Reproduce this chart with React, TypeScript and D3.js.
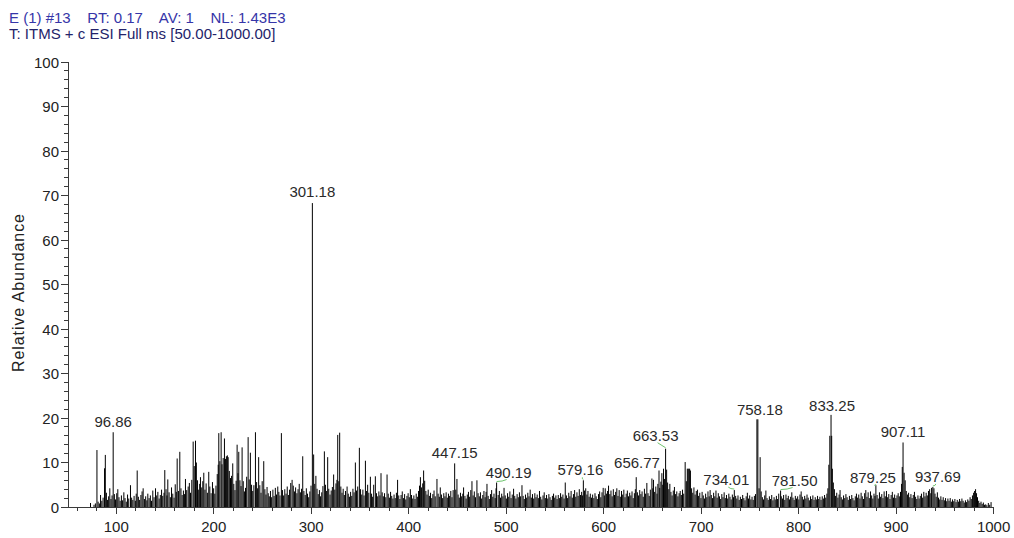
import React from "react";
import * as d3 from "d3";

// ---------- DATA ----------
const headerLine1 = "E (1) #13    RT: 0.17    AV: 1    NL: 1.43E3";
const headerLine2 = "T: ITMS + c ESI Full ms [50.00-1000.00]";
const yAxisTitle = "Relative Abundance";

const xTickValues = [100, 200, 300, 400, 500, 600, 700, 800, 900, 1000];
const yTickValues = [0, 10, 20, 30, 40, 50, 60, 70, 80, 90, 100];

// [m/z, relative abundance]
const peaksLow: [number, number][] = [
  [73.6,0.9],[77.2,0.5],[78.6,0.8],[80.2,12.8],[81.4,1.2],[82.7,0.8],[83.9,2.7],[85.2,1.4],[86.5,2.1],[88.0,8.7],[88.8,11.7],[89.9,3.2],[91.1,1.6],[92.2,2.4],[93.4,4.2],[94.6,1.8],[95.7,2.6],[96.86,16.8],[98.1,2.9],[99.3,1.7],[100.5,3.1],[101.6,4.0],[102.8,2.2],[104.0,1.4],[105.3,2.6],[106.5,1.5],[107.8,3.3],[109.0,2.0],[110.3,1.2],[111.6,2.8],[112.8,1.9],[114.6,4.9],[115.8,2.1],[117.0,1.6],[118.3,2.5],[119.6,1.4],[120.5,3.0],[121.5,8.2],[122.7,2.3],[124.0,1.6],[125.3,2.7],[126.5,3.5],[127.6,4.2],[128.9,1.8],[130.2,2.4],[131.4,1.5],[132.4,3.0],[133.7,2.0],[135.0,2.6],[136.2,1.4],[137.5,3.7],[138.8,2.2],[140.3,4.2],[141.5,2.6],[142.7,3.4],[144.0,1.9],[145.2,2.7],[146.5,3.9],[147.7,2.5],[149.0,3.2],[149.8,8.3],[151.1,4.0],[152.0,2.6],[152.9,6.2],[154.2,3.3],[155.5,2.2],[156.7,4.4],[158.0,3.0],[159.3,2.1],[160.5,5.1],[161.6,3.4],[162.5,10.9],[163.8,3.6],[165.2,12.4],[166.4,4.2],[167.6,2.7],[168.9,3.7],[170.1,2.9],[171.0,6.3],[172.3,3.8],[173.8,4.6],[175.0,5.4],[176.2,3.2],[177.5,6.1],[178.9,14.7],[180.0,9.2],[181.3,14.9],[182.2,10.0],[183.4,6.0],[184.6,3.9],[185.6,5.2],[186.4,6.7],[187.7,4.4],[188.8,5.8],[189.8,7.7],[191.0,3.9],[192.2,5.3],[193.5,3.2],[194.9,7.9],[196.0,4.6],[197.3,3.1],[198.7,5.6],[199.9,4.2],[201.1,3.0],[202.3,4.8],[203.6,7.4],[204.6,9.5],[205.2,16.6],[206.3,10.3],[207.6,16.8],[208.5,9.6],[209.7,11.0],[211.0,15.4],[212.0,10.8],[213.0,11.4],[214.0,11.6],[214.8,11.2],[216.0,8.1],[217.2,6.5],[218.3,7.0],[219.5,9.8],[220.6,5.2],[221.8,3.8],[223.0,5.9],[224.0,14.0],[224.9,7.6],[225.7,12.4],[226.9,6.0],[228.0,4.7],[229.1,13.4],[230.3,5.8],[231.5,3.5],[232.6,4.3],[233.8,6.8],[235.3,15.7],[236.4,6.2],[237.6,12.2],[238.8,5.0],[240.0,3.6],[241.2,4.9],[242.8,16.8],[244.0,5.6],[245.0,4.2],[246.1,11.2],[247.3,4.9],[248.5,3.2],[249.7,5.8],[251.3,10.3],[252.5,4.0],[253.6,2.8],[254.7,4.5],[255.9,3.1],[257.0,2.4],[258.2,3.6],[259.4,2.2],[260.7,3.9],[261.9,2.5],[263.2,4.3],[264.4,2.8],[265.7,4.6],[266.8,3.4],[268.0,2.6],[269.4,16.6],[270.5,3.8],[271.7,2.6],[272.9,4.0],[274.2,3.0],[275.4,4.6],[276.6,2.7],[277.8,3.9],[279.0,5.4],[280.4,6.1],[281.6,4.8],[282.8,3.5],[284.0,4.4],[285.3,3.1],[286.5,4.0],[287.7,5.2],[288.9,3.3],[290.1,4.1],[291.3,11.4],[292.5,3.6],[293.8,2.7],[295.0,4.2],[296.2,3.0],[297.4,2.2],[298.6,3.5],[299.8,4.8]
];

const peaksMid: [number, number][] = [
  [301.18,68.3],[302.5,11.8],[303.6,5.2],[304.8,7.0],[306.0,4.1],[307.2,2.9],[308.4,3.8],[309.6,2.4],[310.8,3.3],[312.0,4.7],[313.5,12.5],[314.6,5.0],[315.8,3.6],[316.9,11.2],[318.0,4.1],[319.3,2.8],[320.5,3.7],[321.7,4.5],[323.0,7.3],[324.2,3.9],[325.4,5.3],[326.4,6.1],[327.2,16.2],[328.3,5.8],[329.2,16.7],[330.4,4.6],[331.6,3.2],[332.8,4.1],[334.0,2.7],[335.2,3.6],[336.8,4.6],[338.0,3.0],[339.2,2.3],[340.4,3.4],[341.6,2.5],[342.8,4.1],[344.0,3.3],[345.3,10.0],[346.5,3.7],[347.7,4.6],[349.4,13.3],[350.6,4.0],[351.8,2.8],[353.0,3.9],[354.2,2.6],[355.6,10.4],[356.8,3.6],[357.9,5.0],[359.1,3.2],[360.7,6.8],[361.9,3.0],[363.0,2.3],[364.1,5.0],[365.8,6.9],[367.0,3.1],[368.2,2.4],[369.4,3.5],[370.5,2.6],[371.6,7.6],[372.8,3.3],[374.0,2.4],[375.2,3.1],[376.5,2.2],[377.8,7.3],[379.0,3.0],[380.2,2.1],[381.4,3.4],[382.6,2.5],[383.8,1.9],[385.0,2.8],[386.2,2.0],[387.4,3.2],[388.6,6.1],[389.8,2.6],[391.0,1.8],[392.2,2.7],[393.4,3.5],[394.6,2.0],[395.8,2.9],[397.0,1.7],[398.2,2.5],[399.4,3.1],[400.6,2.2],[401.7,4.0],[402.9,2.7],[404.1,1.9],[405.3,2.6],[406.5,1.8],[407.7,3.0],[408.9,2.3],[410.1,3.6],[411.1,4.8],[412.0,6.7],[413.2,4.4],[414.4,5.3],[415.3,8.2],[416.4,5.9],[417.6,3.6],[418.8,2.8],[420.0,3.9],[421.2,2.5],[422.4,3.2],[423.6,2.0],[424.8,2.9],[426.0,3.7],[427.2,2.4],[429.0,6.3],[430.2,3.0],[431.4,2.3],[432.4,4.4],[433.6,2.8],[434.8,2.0],[436.0,3.1],[437.2,2.4],[438.4,3.3],[439.6,2.1],[440.8,3.0],[442.0,2.5],[443.2,3.6],[444.4,2.2],[445.6,3.8],[447.15,9.8],[448.3,3.9],[449.5,6.3],[450.7,2.8],[451.9,2.1],[453.1,3.2],[454.3,2.4],[455.5,3.0],[456.3,4.4],[457.7,2.5],[458.9,1.9],[460.1,2.8],[461.3,3.4],[462.5,2.3],[463.7,3.8],[464.9,5.8],[466.1,2.6],[467.3,3.5],[468.5,2.2],[470.0,6.0],[471.2,3.1],[472.4,2.4],[473.6,3.3],[474.8,1.9],[476.0,2.7],[477.2,3.6],[478.4,2.2],[479.4,3.4],[480.3,5.2],[481.5,2.5],[482.7,1.8],[483.9,2.9],[485.1,3.8],[486.3,2.3],[487.5,3.0],[488.7,2.0],[489.6,4.2],[490.19,5.5],[491.8,2.7],[493.0,3.6],[494.2,2.1],[495.4,3.0],[496.6,2.4],[497.8,4.3],[499.0,2.6],[500.2,1.9],[501.4,3.1],[502.6,2.3],[503.8,3.5],[505.0,2.0],[506.2,2.8],[507.6,4.1],[508.8,2.5],[510.0,1.9],[511.2,2.9],[512.4,2.2],[513.6,3.3],[514.8,2.4],[516.2,4.9],[517.4,2.5],[518.6,1.8],[519.8,2.8],[521.0,2.1],[522.2,3.2],[523.4,2.4],[524.6,3.9],[525.8,2.1],[527.0,2.9],[528.2,1.9],[529.4,3.1],[530.6,2.2],[531.8,2.8],[533.0,2.0],[534.2,3.6],[535.4,2.3],[536.6,1.7],[537.8,2.6],[539.0,3.3],[540.2,2.0],[541.4,2.7],[542.6,1.9],[543.8,2.9],[545.0,2.2],[546.2,1.6],[547.4,2.5],[548.6,3.0],[549.8,2.1],[551.0,2.6],[552.2,1.8],[553.4,2.7],[554.6,2.0],[555.8,3.1],[557.0,2.3],[558.2,2.8],[559.4,1.9],[560.6,5.5],[561.8,2.6],[563.0,2.0],[564.2,3.2],[565.4,2.4],[566.6,3.6],[567.8,2.1],[569.0,2.9],[570.2,3.8],[571.4,2.3],[572.6,3.3],[573.8,2.5],[575.0,4.0],[576.2,2.7],[577.4,3.4],[578.4,2.6],[579.16,6.0],[580.4,3.7],[581.6,4.2],[582.8,2.8],[583.9,3.6],[585.1,2.3],[586.3,3.0],[587.5,2.1],[588.7,2.8],[589.9,2.0],[591.1,3.1],[592.3,2.4],[593.5,1.8],[594.7,2.9],[595.9,3.5],[597.1,2.2],[598.3,3.3],[599.5,4.3],[600.7,2.6],[601.6,4.2],[602.8,3.0],[604.0,3.6],[605.0,4.8],[606.3,2.9],[607.5,3.7],[608.7,2.4],[609.9,4.0],[611.1,2.7],[612.3,3.4],[613.5,4.2],[614.7,2.5],[615.9,3.8],[617.1,2.3],[618.3,3.6],[619.5,2.8],[620.7,3.9],[621.9,2.2],[623.1,3.0],[624.3,3.7],[625.5,2.4],[626.7,3.2],[627.9,2.6],[629.1,3.5],[630.3,2.0],[631.5,3.1],[632.5,4.0],[633.4,6.7],[634.6,3.3],[635.8,2.6],[637.0,3.8],[638.2,2.9],[639.4,3.5],[640.6,2.3],[641.8,4.1],[643.0,3.0],[644.3,5.4],[645.5,3.1],[646.7,2.5],[647.9,3.9],[649.5,6.4],[650.4,4.2]
];

const peaksHigh: [number, number][] = [
  [651.1,6.1],[652.3,3.4],[653.5,4.6],[654.7,3.0],[655.6,5.2],[656.77,8.2],[657.5,4.3],[658.7,5.7],[659.7,7.6],[660.6,5.0],[661.4,8.6],[662.5,6.3],[663.53,13.1],[664.6,8.4],[665.6,5.5],[666.8,4.0],[667.9,5.2],[669.0,3.4],[670.2,2.6],[671.4,3.7],[672.6,4.5],[673.8,2.9],[675.0,3.5],[676.2,2.4],[677.4,3.1],[678.5,3.6],[679.7,2.7],[680.9,3.9],[682.1,3.0],[683.6,10.1],[684.8,5.8],[685.8,8.6],[686.6,8.6],[687.4,8.6],[688.2,8.6],[689.0,8.2],[690.2,4.2],[691.4,3.2],[692.6,4.4],[693.8,2.8],[695.0,3.6],[696.2,3.9],[697.4,2.5],[698.6,3.2],[699.8,2.0],[701.0,3.4],[702.2,2.6],[703.4,1.9],[704.6,3.0],[705.8,2.2],[707.0,3.5],[708.2,2.4],[709.2,3.8],[710.4,2.7],[711.6,2.0],[712.8,3.2],[714.0,2.4],[715.2,3.7],[716.4,2.1],[717.6,3.1],[718.8,2.4],[720.0,1.8],[721.2,2.9],[722.4,2.2],[723.6,3.3],[724.8,2.0],[726.0,2.7],[727.2,1.9],[728.4,3.0],[729.6,2.3],[730.8,1.7],[732.0,2.8],[733.2,2.2],[734.01,3.8],[735.4,2.5],[736.6,1.9],[737.8,2.6],[739.0,1.6],[740.2,2.3],[741.4,1.8],[742.6,2.7],[743.8,2.0],[745.0,1.5],[746.2,2.4],[747.4,3.2],[748.6,1.9],[749.8,2.6],[751.0,1.7],[752.2,2.3],[753.4,1.6],[754.6,2.5],[755.8,2.9],[757.2,19.7],[758.18,19.7],[759.4,4.2],[760.5,11.2],[761.6,3.5],[762.8,2.2],[764.0,1.7],[765.2,2.6],[766.4,3.7],[767.6,2.0],[768.8,1.6],[770.0,2.4],[771.2,1.8],[772.4,2.7],[773.6,1.5],[774.8,2.2],[776.0,1.7],[777.2,2.5],[778.4,1.8],[779.6,3.0],[781.5,3.7],[782.2,2.4],[783.4,1.9],[784.6,2.7],[785.8,1.6],[787.0,2.8],[788.2,2.0],[789.4,2.5],[790.6,1.7],[791.8,2.3],[793.0,3.3],[794.2,2.1],[795.4,1.6],[796.6,2.5],[797.8,1.9],[799.0,2.4],[800.2,1.7],[801.4,2.8],[802.6,3.5],[803.8,2.3],[805.0,1.7],[806.2,2.5],[807.4,1.9],[808.6,2.8],[809.8,2.1],[811.0,1.5],[812.2,2.4],[813.4,1.8],[814.6,2.6],[815.8,1.6],[817.0,2.2],[818.2,1.7],[819.4,2.5],[820.6,1.8],[821.8,2.3],[823.0,1.6],[824.2,2.4],[825.4,1.9],[826.6,2.7],[827.8,2.1],[829.0,3.0],[830.0,4.2],[831.0,9.5],[832.0,16.0],[833.25,20.7],[833.9,16.0],[834.6,8.6],[835.6,5.5],[836.7,4.0],[837.9,2.5],[839.1,3.2],[840.3,2.1],[841.5,2.8],[842.5,3.8],[843.7,2.2],[844.9,1.7],[846.1,2.6],[847.3,2.0],[848.5,2.9],[849.7,2.2],[850.9,1.6],[852.1,2.5],[853.3,1.8],[854.5,2.7],[855.7,2.0],[856.9,1.5],[858.1,2.4],[859.3,3.0],[860.5,2.1],[861.7,2.8],[862.9,1.9],[864.1,3.2],[865.3,2.4],[866.5,1.8],[867.7,3.1],[868.9,3.8],[870.1,2.3],[871.3,3.3],[872.5,2.0],[873.7,3.5],[874.9,2.6],[876.1,1.9],[877.3,3.0],[878.3,2.5],[879.25,4.9],[880.5,2.7],[881.7,1.9],[882.9,3.3],[884.1,2.3],[885.3,2.9],[886.5,2.0],[887.7,3.5],[888.9,2.4],[890.1,3.6],[891.3,2.2],[892.5,2.9],[893.7,1.8],[894.9,2.7],[896.1,3.4],[897.3,2.1],[898.5,2.8],[899.7,2.0],[900.9,2.6],[902.1,3.1],[903.3,2.4],[904.5,3.4],[905.6,5.2],[906.3,9.0],[907.11,14.5],[908.2,7.7],[909.3,6.0],[910.4,3.6],[911.6,2.8],[912.8,3.2],[914.0,2.2],[915.2,2.9],[916.4,2.0],[917.6,2.7],[918.8,3.4],[920.0,2.3],[921.2,1.8],[922.4,2.6],[923.6,1.9],[924.8,2.5],[926.0,3.0],[927.2,2.1],[928.4,3.4],[929.6,2.4],[930.8,3.2],[932.0,2.6],[933.2,3.6],[934.4,4.0],[935.6,3.1],[936.4,4.3],[937.69,4.5],[938.8,4.2],[939.9,3.0],[941.1,2.3],[942.3,3.3],[943.5,2.1],[944.7,1.7],[945.9,2.4],[947.1,1.6],[948.3,2.2],[949.5,1.5],[950.7,2.0],[951.9,1.3],[953.1,1.9],[954.3,1.4],[955.5,2.0],[956.7,1.2],[957.9,1.7],[959.1,1.3],[960.3,1.8],[961.5,1.1],[962.7,1.6],[963.9,1.2],[965.1,1.8],[966.3,1.3],[967.5,1.9],[968.7,1.4],[969.9,1.0],[971.1,1.5],[972.3,1.1],[973.5,1.7],[974.7,1.4],[975.9,2.2],[977.1,1.8],[978.3,2.6],[979.5,3.2],[980.5,3.6],[981.5,4.0],[982.5,3.1],[983.5,2.2],[984.7,1.4],[985.9,0.9],[987.1,1.2],[988.3,0.7],[989.5,1.0],[990.7,0.5],[991.9,0.6],[993.1,0.4],[994.6,0.9],[996.0,0.5],[997.4,1.1]
];

const labelMz = [96.86, 301.18, 447.15, 490.19, 579.16, 656.77, 663.53, 734.01, 758.18, 781.5, 833.25, 879.25, 907.11, 937.69];

// ---------- LAYOUT / STYLE ----------
const W = 1014;
const H = 538;
const FONT = "'Liberation Sans', Arial, Helvetica, sans-serif";
// [dx, dy, showLeader]
const labelNudge: Record<string, [number, number, boolean]> = {
  "301.18": [0, -1.5, false],
  "490.19": [12, 0, true],
  "579.16": [-3, 0, true],
  "656.77": [-22, 2, false],
  "663.53": [-10, -3, true],
  "734.01": [-8, 0, true],
  "758.18": [2, 1, false],
  "781.50": [14, 0, true],
  "833.25": [1, 1.5, false],
  "879.25": [-3, 2.5, true],
  "937.69": [5, 0, true],
};

export default function App() {
  const x = d3.scaleLinear().domain([50, 1000]).range([67.5, 993.6]);
  const y = d3.scaleLinear().domain([0, 100]).range([507, 62]);
  const allPeaks = [...peaksLow, ...peaksMid, ...peaksHigh];

  const xMinor = d3.range(60, 1001, 20).filter((v) => v % 100 !== 0);
  const yMinor = d3.range(0, 101, 2).filter((v) => v % 10 !== 0);

  const findPeak = (mz: number) =>
    allPeaks.reduce((b, p) => (Math.abs(p[0] - mz) < Math.abs(b[0] - mz) ? p : b), allPeaks[0]);

  const axisColor = "#3a3a3a";

  return (
    <div style={{ position: "fixed", left: 0, top: 0, background: "#fff" }}>
      <svg width={W} height={H} style={{ display: "block" }} fontFamily={FONT}>
        <rect width={W} height={H} fill="#ffffff" />
        <text x={9} y={23} fontSize={15} fill="#3535a8" xmlSpace="preserve">{headerLine1}</text>
        <text x={9} y={39} fontSize={15} fill="#23236a">{headerLine2}</text>

        {/* peaks */}
        <g stroke="#000" strokeWidth={1}>
          {allPeaks.map((p, i) => (
            <line key={i} x1={x(p[0])} x2={x(p[0])} y1={y(0)} y2={y(p[1])} />
          ))}
        </g>

        {/* axes */}
        <g stroke={axisColor} strokeWidth={1} shapeRendering="crispEdges">
          <line x1={68} x2={68} y1={y(100)} y2={y(0)} />
          <line x1={68} x2={x(1000)} y1={507.5} y2={507.5} />
          {yTickValues.map((v) => (
            <line key={"yt" + v} x1={61} x2={68} y1={y(v)} y2={y(v)} />
          ))}
          {yMinor.map((v) => (
            <line key={"ym" + v} x1={64} x2={68} y1={y(v)} y2={y(v)} />
          ))}
          {xTickValues.map((v) => (
            <line key={"xt" + v} x1={x(v)} x2={x(v)} y1={507} y2={514} />
          ))}
          {xMinor.map((v) => (
            <line key={"xm" + v} x1={x(v)} x2={x(v)} y1={507} y2={511} />
          ))}
        </g>

        <g fontSize={15} fill="#222">
          {yTickValues.map((v) => (
            <text key={"yl" + v} x={59} y={y(v) + 5.5} textAnchor="end">{v}</text>
          ))}
          {xTickValues.map((v) => (
            <text key={"xl" + v} x={x(v)} y={532} textAnchor="middle">{v}</text>
          ))}
        </g>

        <text
          transform={`translate(24, ${293}) rotate(-90)`}
          fontSize={16}
          fill="#222"
          textAnchor="middle"
          textLength={158}
          lengthAdjust="spacing"
        >
          {yAxisTitle}
        </text>

        {/* peak labels */}
        <g fontSize={15} fill="#2a2a2a">
          {labelMz.map((mz) => {
            const p = findPeak(mz);
            const t = mz.toFixed(2);
            const [dx, dy, leader] = labelNudge[t] || [0, 0, false];
            const px = x(p[0]);
            const top = y(p[1]);
            const lx = px + dx;
            const ly = top - 5 + dy;
            return (
              <g key={t}>
                {leader && (
                  <path
                    d={`M${px},${top - 1} Q${(px + lx) / 2},${ly + 4} ${lx + (dx > 0 ? -2 : 2)},${ly + 2}`}
                    fill="none"
                    stroke="#6cc46c"
                    strokeWidth={1}
                  />
                )}
                <text x={lx} y={ly} textAnchor="middle">{t}</text>
              </g>
            );
          })}
        </g>
      </svg>
    </div>
  );
}
